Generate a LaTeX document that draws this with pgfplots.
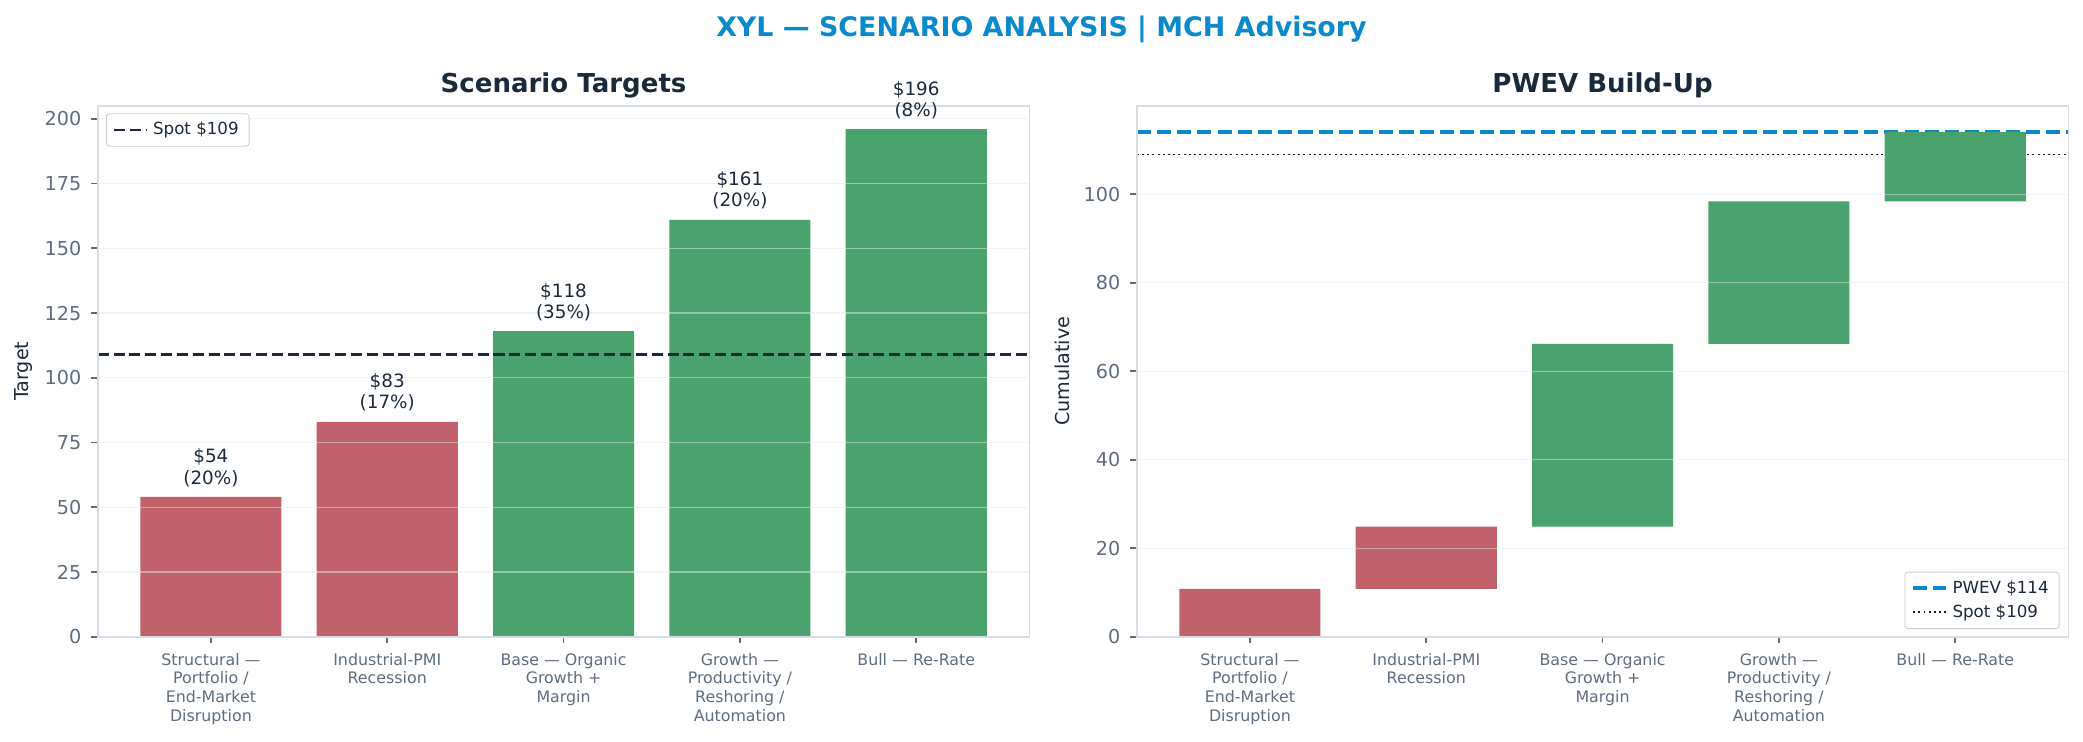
\documentclass[border=0pt]{standalone}
\usepackage{fontspec}
\setmainfont{DejaVu Sans}
\usepackage{pgfplots}
\pgfplotsset{compat=1.18}

\definecolor{titleblue}{HTML}{0A89CC}
\definecolor{ink}{HTML}{1B2A3A}
\definecolor{tickgray}{HTML}{5D6D7E}
\definecolor{framecol}{HTML}{D5DCE4}
\definecolor{gridcol}{HTML}{E4E9EE}
\definecolor{barred}{HTML}{C0616B}
\definecolor{bargreen}{HTML}{4AA36F}
\definecolor{legframe}{HTML}{CCCCCC}

\pgfplotsset{
  panel/.style={
    scale only axis, width=447.3pt, height=254.9pt,
    anchor=south west,
    axis on top, clip=false,
    axis line style={draw=framecol, line width=0.8pt},
    tick pos=left, tick align=outside,
    major tick length=3.2pt,
    tick style={draw=tickgray, line width=0.8pt},
    ymajorgrids,
    major grid style={draw=gridcol, line width=0.6pt, opacity=0.5},
    xmin=-0.642, xmax=4.642,
    xtick={0,1,2,3,4},
    xticklabels={{Structural —\\Portfolio /\\End-Market\\Disruption},
                 {Industrial-PMI\\Recession},
                 {Base — Organic\\Growth +\\Margin},
                 {Growth —\\Productivity /\\Reshoring /\\Automation},
                 {Bull — Re-Rate}},
    xticklabel style={font=\fontsize{7.6}{9.07}\selectfont, text=tickgray,
                      align=center, anchor=north, inner sep=0pt, yshift=-4.4pt},
    yticklabel style={font=\fontsize{9.2}{11}\selectfont, text=tickgray,
                      inner sep=0pt, xshift=-4.5pt},
    /pgf/number format/assume math mode=true,
    every axis title shift=0pt,
    title style={at={(0.5,1)}, anchor=base, yshift=6.6pt,
                 font=\bfseries\fontsize{12.5}{15}\selectfont, text=ink},
    ylabel style={at={([xshift=-35.5pt]axis description cs:0,0.5)}, anchor=center,
                  font=\fontsize{9.2}{11}\selectfont, text=ink},
    legend style={font=\fontsize{8}{9.6}\selectfont, text=ink, draw=legframe,
                  rounded corners=1.5pt, fill=white, cells={anchor=west}},
    bar width=0.8,
  },
  lineleg/.style={legend image code/.code={\draw[##1] (0pt,0pt) -- (16pt,0pt);}},
  barlabels/.style={
    point meta=explicit symbolic,
    nodes near coords={\$\pgfmathprintnumber[fixed,precision=0]{\pgfkeysvalueof{/data point/y}}\\(\pgfplotspointmeta\%)},
    every node near coord/.append style={font=\fontsize{8.8}{10.2}\selectfont,
        text=ink, align=center, anchor=south, inner sep=0pt, yshift=4.8pt},
  },
}

\begin{document}
\begin{tikzpicture}
\useasboundingbox (0pt,0pt) rectangle (1000pt,-356.2pt);
\node[anchor=base, font=\bfseries\fontsize{12.9}{15}\selectfont, text=titleblue]
  at (500pt,-17.5pt) {XYL — SCENARIO ANALYSIS | MCH Advisory};

% scenario targets
\begin{axis}[panel, at={(46.9pt,-305.7pt)},
  ymin=0, ymax=205, ytick={0,25,...,200},
  title={Scenario Targets}, ylabel={Target},
  legend style={at={(0,1)}, anchor=north west, xshift=4pt, yshift=-3.6pt}]
\addplot[ybar, bar shift=0pt, fill=barred, draw=none, forget plot, barlabels]
  coordinates {(0,54) [20] (1,83) [17]};
\addplot[ybar, bar shift=0pt, fill=bargreen, draw=none, forget plot, barlabels]
  coordinates {(2,118) [35] (3,161) [20] (4,196) [8]};
\addplot[sharp plot, lineleg, ink, line width=1.4pt, dash pattern=on 5.3pt off 2.3pt]
  coordinates {(-0.642,109) (4.642,109)};
\addlegendentry{Spot \$109}
\end{axis}

% waterfall
\begin{axis}[panel, at={(545.7pt,-305.7pt)},
  ymin=0, ymax=120, ytick={0,20,...,100},
  title={PWEV Build-Up}, ylabel={Cumulative},
  ybar stacked,
  legend style={at={(1,0)}, anchor=south east, xshift=-4.3pt, yshift=3.7pt}]
\addplot[fill=none, draw=none, forget plot]
  coordinates {(0,0) (1,10.8) (2,24.91) (3,66.21) (4,98.41)};
\addplot[fill=barred, draw=none, forget plot]
  coordinates {(0,10.8) (1,14.11) (2,0) (3,0) (4,0)};
\addplot[fill=bargreen, draw=none, forget plot]
  coordinates {(0,0) (1,0) (2,41.3) (3,32.2) (4,15.68)};
\addplot[sharp plot, stack plots=false, lineleg, titleblue, line width=1.84pt,
  dash pattern=on 6.8pt off 2.9pt]
  coordinates {(-0.642,114.09) (4.642,114.09)};
\addlegendentry{PWEV \$114}
\addplot[sharp plot, stack plots=false, lineleg, black!90, line width=0.95pt,
  dash pattern=on 0.95pt off 1.55pt]
  coordinates {(-0.642,109) (4.642,109)};
\addlegendentry{Spot \$109}
\end{axis}
\end{tikzpicture}
\end{document}
